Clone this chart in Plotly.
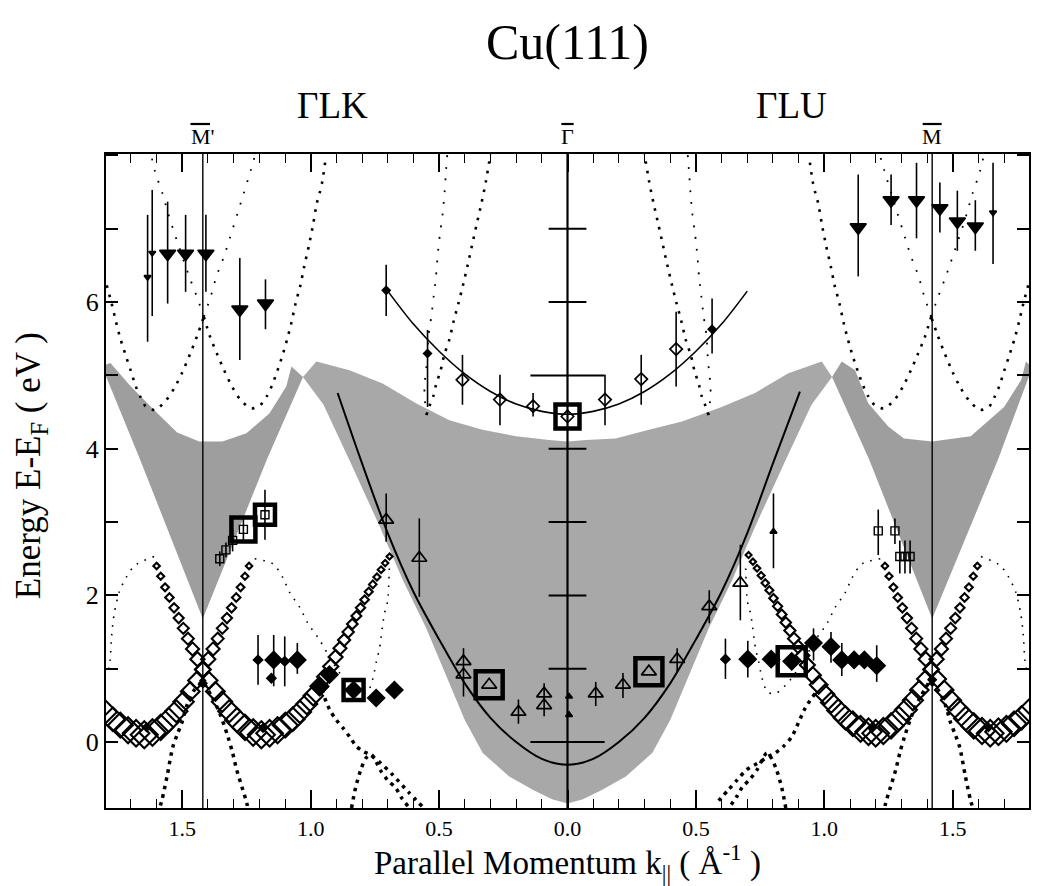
import math
import plotly.graph_objects as go

SERIF = "Liberation Serif"

# ---------------- projected bulk bands (shaded areas) ----------------
gapL_k = [-1.797, -1.797, -1.78, -1.70, -1.61, -1.52, -1.434, -1.344, -1.25, -1.161, -1.095, -1.075, -1.03, -1.171, -1.42, -1.664]
gapL_E = [4.99, 5.15, 5.17, 4.85, 4.53, 4.22, 4.10, 4.10, 4.21, 4.48, 4.85, 5.12, 4.98, 3.85, 1.68, 3.85]
gapR_k = [1.797, 1.797, 1.785, 1.767, 1.70, 1.57, 1.42, 1.31, 1.25, 1.171, 1.12, 1.068, 1.03, 1.175, 1.42, 1.676]
gapR_E = [4.99, 5.15, 5.19, 4.94, 4.57, 4.17, 4.10, 4.14, 4.30, 4.62, 5.07, 5.19, 4.98, 3.85, 1.68, 3.85]
gapC_k = [-1.03, -0.978, -0.849, -0.72, -0.59, -0.46, -0.331, -0.20, -0.072, 0.0, 0.072, 0.187, 0.317,
          0.446, 0.60, 0.73, 0.86, 0.99, 1.03, 0.95, 0.85, 0.731, 0.64, 0.55, 0.46, 0.40, 0.33, 0.227,
          0.13, 0.06, 0.0, -0.06, -0.13, -0.227, -0.33, -0.40, -0.46, -0.55, -0.64, -0.731, -0.85, -0.95]
gapC_E = [4.98, 5.19, 5.07, 4.89, 4.62, 4.39, 4.26, 4.17, 4.12, 4.10, 4.12, 4.14, 4.26,
          4.37, 4.57, 4.76, 5.03, 5.19, 4.98, 4.60, 3.85, 2.94, 2.20, 1.55, 0.80, 0.30, -0.15, -0.47,
          -0.66, -0.78, -0.84, -0.78, -0.66, -0.47, -0.15, 0.30, 0.80, 1.55, 2.20, 2.94, 3.85, 4.60]

# ---------------- model parabolas (solid lines) ----------------
lowpar_k = [-0.895, -0.80, -0.70, -0.60, -0.50, -0.40, -0.30, -0.20, -0.10, 0.0, 0.10, 0.20, 0.30, 0.40, 0.50, 0.60, 0.70, 0.80, 0.905]
lowpar_E = [4.76, 3.80, 2.85, 2.05, 1.40, 0.80, 0.33, 0.00, -0.23, -0.31, -0.23, 0.00, 0.33, 0.80, 1.40, 2.05, 2.85, 3.80, 4.78]
uppar_k = [-0.704, -0.60, -0.50, -0.40, -0.30, -0.20, -0.10, 0.0, 0.10, 0.20, 0.30, 0.40, 0.50, 0.60, 0.70]
uppar_E = [6.17, 5.70, 5.33, 5.02, 4.78, 4.61, 4.51, 4.47, 4.51, 4.61, 4.78, 5.02, 5.33, 5.70, 6.15]

# ---------------- calculated bands above the gap (dotted) ----------------
u1L_k = [-1.794, -1.775, -1.758, -1.740, -1.720, -1.701, -1.681, -1.662, -1.643, -1.606, -1.561, -1.529, -1.499, -1.470, -1.442, -1.416]
u1L_E = [6.23, 5.98, 5.73, 5.49, 5.27, 5.07, 4.85, 4.70, 4.58, 4.53, 4.67, 4.84, 5.05, 5.29, 5.54, 5.80]
u1R_k = [1.794, 1.775, 1.758, 1.740, 1.720, 1.701, 1.681, 1.662, 1.643, 1.606, 1.561, 1.529, 1.499, 1.470, 1.442, 1.416]
u1R_E = [6.23, 5.98, 5.73, 5.49, 5.27, 5.07, 4.85, 4.70, 4.58, 4.53, 4.67, 4.84, 5.05, 5.29, 5.54, 5.80]
u1cL_k = [-1.416, -1.389, -1.367, -1.338, -1.315, -1.285, -1.261, -1.234, -1.215]
u1cL_E = [5.80, 6.08, 6.35, 6.62, 6.87, 7.21, 7.48, 7.79, 8.02]
u1cR_k = [1.416, 1.389, 1.367, 1.338, 1.315, 1.285, 1.261, 1.234, 1.215]
u1cR_E = [5.80, 6.08, 6.35, 6.62, 6.87, 7.21, 7.48, 7.79, 8.02]
u2L_k = [-1.416, -1.393, -1.364, -1.337, -1.305, -1.274, -1.231, -1.195, -1.170, -1.150, -1.130, -1.110, -1.092, -1.075,
         -1.059, -1.040, -1.025, -1.007, -0.991, -0.976, -0.965, -0.955, -0.942]
u2L_E = [5.80, 5.54, 5.29, 5.07, 4.84, 4.67, 4.55, 4.60, 4.72, 4.87, 5.06, 5.27, 5.49, 5.72,
         5.98, 6.23, 6.49, 6.77, 7.05, 7.35, 7.49, 7.64, 7.95]
u2R_k = [1.416, 1.393, 1.364, 1.337, 1.305, 1.274, 1.231, 1.195, 1.170, 1.150, 1.130, 1.110, 1.092, 1.075,
         1.059, 1.040, 1.025, 1.007, 0.991, 0.976, 0.965, 0.955, 0.942]
u2R_E = [5.80, 5.54, 5.29, 5.07, 4.84, 4.67, 4.55, 4.60, 4.72, 4.87, 5.06, 5.27, 5.49, 5.72,
         5.98, 6.23, 6.49, 6.77, 7.05, 7.35, 7.49, 7.64, 7.95]
u2cL_k = [-1.416, -1.444, -1.473, -1.522, -1.555, -1.577, -1.606, -1.622]
u2cL_E = [5.80, 6.08, 6.35, 6.85, 7.21, 7.48, 7.78, 8.02]
u2cR_k = [1.416, 1.444, 1.473, 1.522, 1.555, 1.577, 1.606, 1.622]
u2cR_E = [5.80, 6.08, 6.35, 6.85, 7.21, 7.48, 7.78, 8.02]
c1L_k = [-0.549, -0.538, -0.523, -0.512, -0.494, -0.480, -0.460, -0.444, -0.425, -0.407, -0.389, -0.372, -0.353, -0.335, -0.318, -0.300]
c1L_E = [4.46, 4.58, 4.71, 4.87, 5.07, 5.28, 5.49, 5.73, 5.98, 6.23, 6.50, 6.77, 7.07, 7.35, 7.64, 8.02]
c1R_k = [0.549, 0.538, 0.523, 0.512, 0.494, 0.480, 0.460, 0.444, 0.425, 0.407, 0.389, 0.372, 0.353, 0.335, 0.318, 0.300]
c1R_E = [4.46, 4.58, 4.71, 4.87, 5.07, 5.28, 5.49, 5.73, 5.98, 6.23, 6.50, 6.77, 7.07, 7.35, 7.64, 8.02]
c2L_k = [-0.549, -0.556, -0.557, -0.551, -0.545, -0.541, -0.530, -0.521, -0.512, -0.506, -0.497, -0.486, -0.479, -0.473, -0.468]
c2L_E = [4.46, 4.69, 4.85, 5.06, 5.30, 5.55, 5.81, 6.08, 6.35, 6.62, 6.92, 7.21, 7.48, 7.79, 8.02]
c2R_k = [0.549, 0.556, 0.557, 0.551, 0.545, 0.541, 0.530, 0.521, 0.512, 0.506, 0.497, 0.486, 0.479, 0.473, 0.468]
c2R_E = [4.46, 4.69, 4.85, 5.06, 5.30, 5.55, 5.81, 6.08, 6.35, 6.62, 6.92, 7.21, 7.48, 7.79, 8.02]

# ---------------- weak bands below the gap (fine dots) ----------------
s1L_k = [-1.610, -1.684, -1.716, -1.745, -1.765, -1.775, -1.781, -1.790]
s1L_E = [2.53, 2.41, 2.26, 2.05, 1.75, 1.45, 1.12, 0.95]
s1R_k = [1.610, 1.684, 1.716, 1.745, 1.765, 1.775, 1.781, 1.790]
s1R_E = [2.53, 2.41, 2.26, 2.05, 1.75, 1.45, 1.12, 0.95]
s2L_k = [-1.218, -1.147, -1.108, -1.082, -1.043, -1.011, -0.965, -0.927, -0.868, -0.810, -0.779, -0.763, -0.752, -0.744, -0.732, -0.713, -0.701, -0.693]
s2L_E = [2.50, 2.43, 2.24, 2.04, 1.84, 1.62, 1.39, 1.16, 0.85, 0.66, 0.68, 0.80, 0.96, 1.10, 1.28, 1.75, 1.91, 2.45]
s2R_k = [1.218, 1.147, 1.108, 1.082, 1.043, 1.011, 0.965, 0.927, 0.868, 0.810, 0.779, 0.763, 0.752, 0.744, 0.732, 0.713, 0.701, 0.693]
s2R_E = [2.50, 2.43, 2.24, 2.04, 1.84, 1.62, 1.39, 1.16, 0.85, 0.66, 0.68, 0.80, 0.96, 1.10, 1.28, 1.75, 1.91, 2.45]

# ---------------- surface-resonance bands (open diamonds) ----------------
b1L_k = [-0.693, -0.710, -0.726, -0.742, -0.758, -0.774, -0.790, -0.806, -0.822, -0.838, -0.854, -0.870, -0.886, -0.903,
         -0.922, -0.943, -0.966, -0.990, -1.015, -1.042, -1.070, -1.099, -1.129, -1.160, -1.192, -1.224, -1.256, -1.287,
         -1.317, -1.345, -1.371, -1.396, -1.420, -1.441, -1.460, -1.478, -1.496, -1.514, -1.532, -1.550, -1.567, -1.584, -1.600]
b1L_E = [2.53, 2.44, 2.35, 2.25, 2.15, 2.05, 1.94, 1.83, 1.72, 1.61, 1.50, 1.39, 1.28, 1.16,
         1.03, 0.89, 0.76, 0.63, 0.52, 0.41, 0.31, 0.23, 0.16, 0.12, 0.10, 0.13, 0.20, 0.30,
         0.42, 0.55, 0.69, 0.84, 0.99, 1.13, 1.27, 1.41, 1.55, 1.69, 1.83, 1.97, 2.11, 2.26, 2.40]
b2L_k = [-1.798, -1.770, -1.741, -1.711, -1.680, -1.648, -1.616, -1.584, -1.553, -1.523, -1.495, -1.469, -1.444, -1.420,
         -1.399, -1.380, -1.362, -1.344, -1.326, -1.308, -1.290, -1.273, -1.256, -1.240]
b2L_E = [0.41, 0.31, 0.23, 0.16, 0.12, 0.10, 0.13, 0.20, 0.30, 0.42, 0.55, 0.69, 0.84, 0.99,
         1.13, 1.27, 1.41, 1.55, 1.69, 1.83, 1.97, 2.11, 2.26, 2.40]
b1R_k = [0.705, 0.722, 0.738, 0.754, 0.770, 0.786, 0.802, 0.818, 0.834, 0.850, 0.866, 0.882, 0.898, 0.915,
         0.934, 0.955, 0.978, 1.002, 1.027, 1.054, 1.082, 1.111, 1.141, 1.172, 1.200, 1.230, 1.260, 1.290,
         1.318, 1.345, 1.370, 1.394, 1.416, 1.437, 1.456, 1.474, 1.492, 1.510, 1.528, 1.546, 1.563, 1.580, 1.596]
b1R_E = [2.55, 2.46, 2.37, 2.27, 2.17, 2.07, 1.96, 1.85, 1.74, 1.63, 1.52, 1.41, 1.30, 1.18,
         1.05, 0.91, 0.78, 0.65, 0.54, 0.43, 0.33, 0.25, 0.18, 0.14, 0.12, 0.15, 0.22, 0.32,
         0.44, 0.57, 0.71, 0.86, 0.99, 1.13, 1.27, 1.41, 1.55, 1.69, 1.83, 1.97, 2.11, 2.26, 2.40]
b2R_k = [1.797, 1.768, 1.739, 1.709, 1.678, 1.646, 1.614, 1.582, 1.551, 1.521, 1.493, 1.467, 1.441, 1.416,
         1.395, 1.376, 1.358, 1.340, 1.322, 1.304, 1.286, 1.269, 1.252, 1.236]
b2R_E = [0.43, 0.33, 0.25, 0.18, 0.14, 0.12, 0.15, 0.22, 0.32, 0.44, 0.57, 0.71, 0.86, 0.99,
         1.13, 1.27, 1.41, 1.55, 1.69, 1.83, 1.97, 2.11, 2.26, 2.40]

# ---------------- strong bands near E_F (heavy dots) ----------------
tdaL_k = [-1.425, -1.455, -1.482, -1.502, -1.520, -1.537, -1.560, -1.579, -1.588]
tdaL_E = [0.80, 0.70, 0.50, 0.26, 0.10, -0.07, -0.48, -0.79, -0.90]
tdbL_k = [-1.415, -1.385, -1.355, -1.322, -1.304, -1.288, -1.268, -1.249, -1.245]
tdbL_E = [0.80, 0.62, 0.40, 0.07, -0.15, -0.38, -0.61, -0.83, -0.90]
tdaR_k = [1.415, 1.445, 1.472, 1.492, 1.510, 1.527, 1.550, 1.569, 1.578]
tdaR_E = [0.80, 0.70, 0.50, 0.26, 0.10, -0.07, -0.48, -0.79, -0.90]
tdbR_k = [1.405, 1.375, 1.345, 1.312, 1.294, 1.278, 1.258, 1.239, 1.235]
tdbR_E = [0.80, 0.62, 0.40, 0.07, -0.15, -0.38, -0.61, -0.83, -0.90]
l1L_k = [-0.957, -0.926, -0.900, -0.874, -0.848, -0.822, -0.795, -0.770, -0.730, -0.680, -0.620, -0.560]
l1L_E = [0.71, 0.44, 0.30, 0.19, 0.07, -0.06, -0.13, -0.17, -0.28, -0.45, -0.68, -0.90]
l1R_k = [0.964, 0.925, 0.899, 0.873, 0.841, 0.809, 0.780, 0.750, 0.697, 0.660, 0.627, 0.576]
l1R_E = [0.66, 0.46, 0.26, 0.07, -0.06, -0.15, -0.20, -0.27, -0.38, -0.52, -0.65, -0.85]
ivL_k = [-0.841, -0.825, -0.805, -0.785, -0.765, -0.745, -0.726, -0.700, -0.668, -0.648, -0.620]
ivL_E = [-0.90, -0.62, -0.38, -0.22, -0.17, -0.27, -0.40, -0.52, -0.63, -0.75, -0.88]
ivR_k = [0.850, 0.834, 0.814, 0.794, 0.776, 0.757, 0.738, 0.712, 0.680, 0.660, 0.632]
ivR_E = [-0.90, -0.62, -0.38, -0.22, -0.15, -0.25, -0.38, -0.50, -0.62, -0.74, -0.88]
knot_k = [-1.639, -1.420, -1.186, 1.186, 1.420, 1.639]
knot_E = [0.20, 0.80, 0.19, 0.19, 0.85, 0.20]

# ---------------- measured states ----------------
# high-lying final states (filled down triangles)
dnbig_k = [-1.557, -1.487, -1.408, -1.276, -1.176, 1.132, 1.260, 1.359, 1.450, 1.518, 1.588]
dnbig_E = [6.66, 6.66, 6.66, 5.90, 5.98, 7.02, 7.39, 7.39, 7.28, 7.10, 7.03]
dnbig_hi = [7.37, 7.19, 7.19, 6.60, 6.31, 7.74, 7.74, 7.90, 7.63, 7.52, 7.39]
dnbig_lo = [5.98, 6.14, 6.14, 5.21, 5.63, 6.35, 7.05, 6.87, 6.95, 6.70, 6.70]
dnsml_k = [-1.635, -1.617, 1.657]
dnsml_E = [6.34, 6.67, 7.22]
dnsml_hi = [7.19, 7.53, 7.90]
dnsml_lo = [5.46, 5.81, 6.52]

# image-potential state (open / filled diamonds)
ipo_k = [-0.409, -0.263, -0.134, 0.0, 0.146, 0.287, 0.423]
ipo_E = [4.94, 4.67, 4.58, 4.44, 4.67, 4.95, 5.36]
ipo_hi = [5.28, 5.01, 4.76, 4.44, 5.01, 5.28, 5.87]
ipo_lo = [4.60, 4.32, 4.44, 4.44, 4.32, 4.60, 4.85]
ipf_k = [-0.706, -0.545, 0.563]
ipf_E = [6.16, 5.30, 5.63]
ipf_hi = [6.51, 5.62, 6.05]
ipf_lo = [5.81, 4.57, 5.30]

# open triangles
otr_k = [-0.706, -0.577, -0.405, -0.405, -0.305, -0.191, -0.091, -0.091, 0.110, 0.216, 0.317, 0.427, 0.552, 0.673]
otr_E = [3.03, 2.51, 1.10, 0.92, 0.78, 0.41, 0.66, 0.50, 0.66, 0.78, 0.96, 1.13, 1.85, 2.17]
otr_hi = [3.39, 3.05, 1.28, 0.92, 0.78, 0.58, 0.80, 0.50, 0.82, 0.94, 0.96, 1.28, 2.07, 2.69]
otr_lo = [2.73, 1.98, 0.62, 0.92, 0.78, 0.25, 0.35, 0.50, 0.49, 0.60, 0.96, 0.96, 1.62, 1.66]
# small filled triangles
ftr_k = [0.006, 0.006, 0.802]
ftr_E = [0.62, 0.37, 2.87]
ftr_hi = [0.62, 0.37, 3.39]
ftr_lo = [0.62, 0.37, 2.37]

# open squares
osq_k = [-1.354, -1.330, -1.304, -1.262, -1.178, 1.210, 1.275, 1.294, 1.314, 1.334]
osq_E = [2.50, 2.62, 2.75, 2.90, 3.10, 2.88, 2.88, 2.53, 2.53, 2.53]
osq_hi = [2.60, 2.72, 2.90, 3.05, 3.44, 3.17, 3.05, 2.75, 2.75, 2.75]
osq_lo = [2.40, 2.52, 2.60, 2.75, 2.76, 2.55, 2.70, 2.30, 2.30, 2.30]

# filled diamonds near 1 eV
fds_k = [-1.205, -1.153, -1.101, 0.615]
fds_E = [1.12, 0.87, 1.10, 1.13]
fds_hi = [1.46, 0.87, 1.44, 1.41]
fds_lo = [0.78, 0.87, 0.76, 0.86]
fdb_k = [-1.144, -1.052, -0.965, -0.927, -0.833, -0.745, -0.674, 0.702, 0.793, 0.873, 0.958, 1.026, 1.068, 1.116, 1.156, 1.204]
fdb_E = [1.12, 1.12, 0.75, 0.92, 0.71, 0.60, 0.71, 1.13, 1.13, 1.10, 1.35, 1.30, 1.12, 1.12, 1.12, 1.04]
fdb_hi = [1.46, 1.35, 0.75, 0.92, 0.71, 0.60, 0.71, 1.38, 1.13, 1.10, 1.55, 1.50, 1.35, 1.12, 1.12, 1.32]
fdb_lo = [0.76, 0.93, 0.75, 0.92, 0.71, 0.60, 0.71, 0.88, 1.13, 1.10, 1.11, 1.08, 0.90, 1.12, 1.12, 0.82]

# framed (emphasised) points
frame_k = [0.0, -0.305, 0.317, -0.833, 0.873, -1.262, -1.178]
frame_E = [4.44, 0.78, 0.96, 0.71, 1.10, 2.90, 3.10]

# symmetry points and energy scale on the Gamma line
sym_k = [-1.42, 0.0, 1.42]
sym_lbl = ["M'", "\u0393", "M"]
gbar_short_E = [1, 2, 3, 4, 6, 7]
gbar_long_E = [0, 5]

xtick_vals = [-1.5, -1.0, -0.5, 0.0, 0.5, 1.0, 1.5]
xtick_text = ["1.5", "1.0", "0.5", "0.0", "0.5", "1.0", "1.5"]
ytick_vals = [0, 2, 4, 6]
ytick_text = ["0", "2", "4", "6"]

fig = go.Figure()


def shaded(k, E, color):
    fig.add_trace(go.Scatter(x=k, y=E, mode="lines", fill="toself", fillcolor=color,
                             line=dict(width=0, color=color), hoverinfo="skip"))


def solid(k, E, w):
    fig.add_trace(go.Scatter(x=k, y=E, mode="lines", hoverinfo="skip",
                             line=dict(color="black", width=w, shape="spline", smoothing=0.9)))


def dotted(k, E, w, gap):
    fig.add_trace(go.Scatter(x=k, y=E, mode="lines", hoverinfo="skip",
                             line=dict(color="black", width=w, dash=f"{w}px,{gap}px",
                                       shape="spline", smoothing=0.8)))


def diamonds(k, E):
    # symbol grows towards the Fermi level
    sizes = [27.0 * math.exp(-0.62 * (e - 0.1)) / 1.3 for e in E]
    fig.add_trace(go.Scatter(x=k, y=E, mode="markers", hoverinfo="skip",
                             marker=dict(symbol="diamond-open", size=sizes, color="black", opacity=1,
                                         line=dict(width=2.1, color="black"))))


def bars(E, hi, lo):
    return dict(type="data", symmetric=False,
                array=[h - e for h, e in zip(hi, E)],
                arrayminus=[e - l for e, l in zip(E, lo)],
                thickness=1.6, width=0, color="black")


def points(k, E, hi, lo, symbol, size, lw=1.6):
    fig.add_trace(go.Scatter(x=k, y=E, mode="markers", hoverinfo="skip",
                             error_y=bars(E, hi, lo),
                             marker=dict(symbol=symbol, size=size, color="black", opacity=1,
                                         line=dict(width=lw, color="black"))))


# shaded projected bulk bands
shaded(gapL_k, gapL_E, "rgb(158,158,158)")
shaded(gapR_k, gapR_E, "rgb(158,158,158)")
shaded(gapC_k, gapC_E, "rgb(168,168,168)")

# solid model curves
solid(lowpar_k, lowpar_E, 2.0)
solid(uppar_k, uppar_E, 1.6)

# dotted calculated bands
for k, E in [(u1L_k, u1L_E), (u1R_k, u1R_E), (u2L_k, u2L_E), (u2R_k, u2R_E), (c1L_k, c1L_E), (c1R_k, c1R_E)]:
    dotted(k, E, 2.6, 7)
for k, E in [(u1cL_k, u1cL_E), (u1cR_k, u1cR_E), (u2cL_k, u2cL_E), (u2cR_k, u2cR_E), (c2L_k, c2L_E), (c2R_k, c2R_E)]:
    dotted(k, E, 1.8, 10)
for k, E in [(s1L_k, s1L_E), (s1R_k, s1R_E), (s2L_k, s2L_E), (s2R_k, s2R_E)]:
    dotted(k, E, 1.6, 7)
for k, E in [(tdaL_k, tdaL_E), (tdbL_k, tdbL_E), (tdaR_k, tdaR_E), (tdbR_k, tdbR_E),
             (l1L_k, l1L_E), (l1R_k, l1R_E), (ivL_k, ivL_E), (ivR_k, ivR_E)]:
    dotted(k, E, 3.5, 5)

# surface resonance bands
for k, E in [(b1L_k, b1L_E), (b2L_k, b2L_E), (b1R_k, b1R_E), (b2R_k, b2R_E)]:
    diamonds(k, E)
fig.add_trace(go.Scatter(x=knot_k, y=knot_E, mode="markers", hoverinfo="skip",
                         marker=dict(symbol="diamond", size=8, color="black")))

# symmetry-point lines
for k in sym_k:
    fig.add_shape(type="line", xref="x", yref="paper", x0=k, x1=k, y0=0, y1=1,
                  line=dict(color="black", width=2.2 if k == 0 else 1.4))
fig.add_trace(go.Scatter(x=[0.0] * len(gbar_short_E), y=gbar_short_E, mode="markers", hoverinfo="skip",
                         marker=dict(symbol="line-ew", size=27, line=dict(width=2, color="black"))))
fig.add_trace(go.Scatter(x=[0.0] * len(gbar_long_E), y=gbar_long_E, mode="markers", hoverinfo="skip",
                         marker=dict(symbol="line-ew", size=53, line=dict(width=2, color="black"))))

# measured points
points(dnbig_k, dnbig_E, dnbig_hi, dnbig_lo, "triangle-down", 14)
points(dnsml_k, dnsml_E, dnsml_hi, dnsml_lo, "triangle-down", 6)
points(ipo_k, ipo_E, ipo_hi, ipo_lo, "diamond-open", 9.5, 1.7)
points(ipf_k, ipf_E, ipf_hi, ipf_lo, "diamond", 6)
points(otr_k, otr_E, otr_hi, otr_lo, "triangle-up-open", 13, 1.7)
points(ftr_k, ftr_E, ftr_hi, ftr_lo, "triangle-up", 6)
points(osq_k, osq_E, osq_hi, osq_lo, "square-open", 8, 1.4)
points(fds_k, fds_E, fds_hi, fds_lo, "diamond", 7)
points(fdb_k, fdb_E, fdb_hi, fdb_lo, "diamond", 13)
fig.add_trace(go.Scatter(x=frame_k, y=frame_E, mode="markers", hoverinfo="skip",
                         marker=dict(symbol="square-open", size=[24, 27, 27, 20, 28, 24, 20],
                                     color="black", opacity=1, line=dict(width=4.5, color="black"))))

# overbars above the surface symmetry-point letters
bar_left = [0.048, 0.024, 0.037]
bar_right = [0.028, 0.024, 0.037]
for k, dl, dr in zip(sym_k, bar_left, bar_right):
    fig.add_shape(type="line", xref="x", yref="paper", x0=k - dl, x1=k + dr,
                  y0=(808 - 124) / 654, y1=(808 - 124) / 654, line=dict(color="black", width=2.2))

annotations = [
    dict(text="Cu(111)", xref="paper", yref="paper", x=0.5, y=(808 - 42) / 654,
         font=dict(family=SERIF, size=50, color="black")),
    dict(text="\u0393LK", xref="paper", yref="paper", x=(333 - 106) / 925, y=(808 - 105) / 654,
         font=dict(family=SERIF, size=37, color="black")),
    dict(text="\u0393LU", xref="paper", yref="paper", x=(793 - 106) / 925, y=(808 - 105) / 654,
         font=dict(family=SERIF, size=37, color="black")),
    dict(text="Energy E-E<sub>F</sub> ( eV )", xref="paper", yref="paper", x=(30 - 106) / 925,
         y=(808 - 466) / 654, textangle=-90, font=dict(family=SERIF, size=35, color="black")),
    dict(text="Parallel Momentum k<sub>||</sub> ( \u00c5<sup>-1</sup> )", xref="paper", yref="paper",
         x=0.5, y=(808 - 862) / 654, font=dict(family=SERIF, size=33, color="black")),
]
for k, lbl in zip(sym_k, sym_lbl):
    annotations.append(dict(text=lbl, xref="x", yref="paper", x=k, y=(808 - 137) / 654,
                            font=dict(family=SERIF, size=22, color="black")))
for a in annotations:
    a.update(showarrow=False, xanchor="center", yanchor="middle")

fig.update_layout(
    width=1041, height=886,
    margin=dict(l=106, r=10, t=154, b=78),
    plot_bgcolor="white", paper_bgcolor="white",
    showlegend=False,
    font=dict(family=SERIF, color="black"),
    annotations=annotations,
    xaxis=dict(range=[-1.797, 1.797], tickvals=xtick_vals, ticktext=xtick_text,
               ticks="inside", ticklen=18, tickwidth=1.5, tickcolor="black",
               minor=dict(dtick=0.1, tick0=0, ticks="inside", ticklen=9, tickwidth=1.3, tickcolor="black"),
               showline=True, linewidth=2, linecolor="black", mirror="ticks",
               showgrid=False, zeroline=False,
               tickfont=dict(family=SERIF, size=22, color="black")),
    yaxis=dict(range=[-0.9, 8.02], tickvals=ytick_vals, ticktext=ytick_text,
               ticks="inside", ticklen=12, tickwidth=1.5, tickcolor="black",
               minor=dict(dtick=1, tick0=0, ticks="inside", ticklen=12, tickwidth=1.5, tickcolor="black"),
               showline=True, linewidth=2, linecolor="black", mirror="ticks",
               showgrid=False, zeroline=False,
               tickfont=dict(family=SERIF, size=26, color="black")),
)

fig.write_html("out.html")
